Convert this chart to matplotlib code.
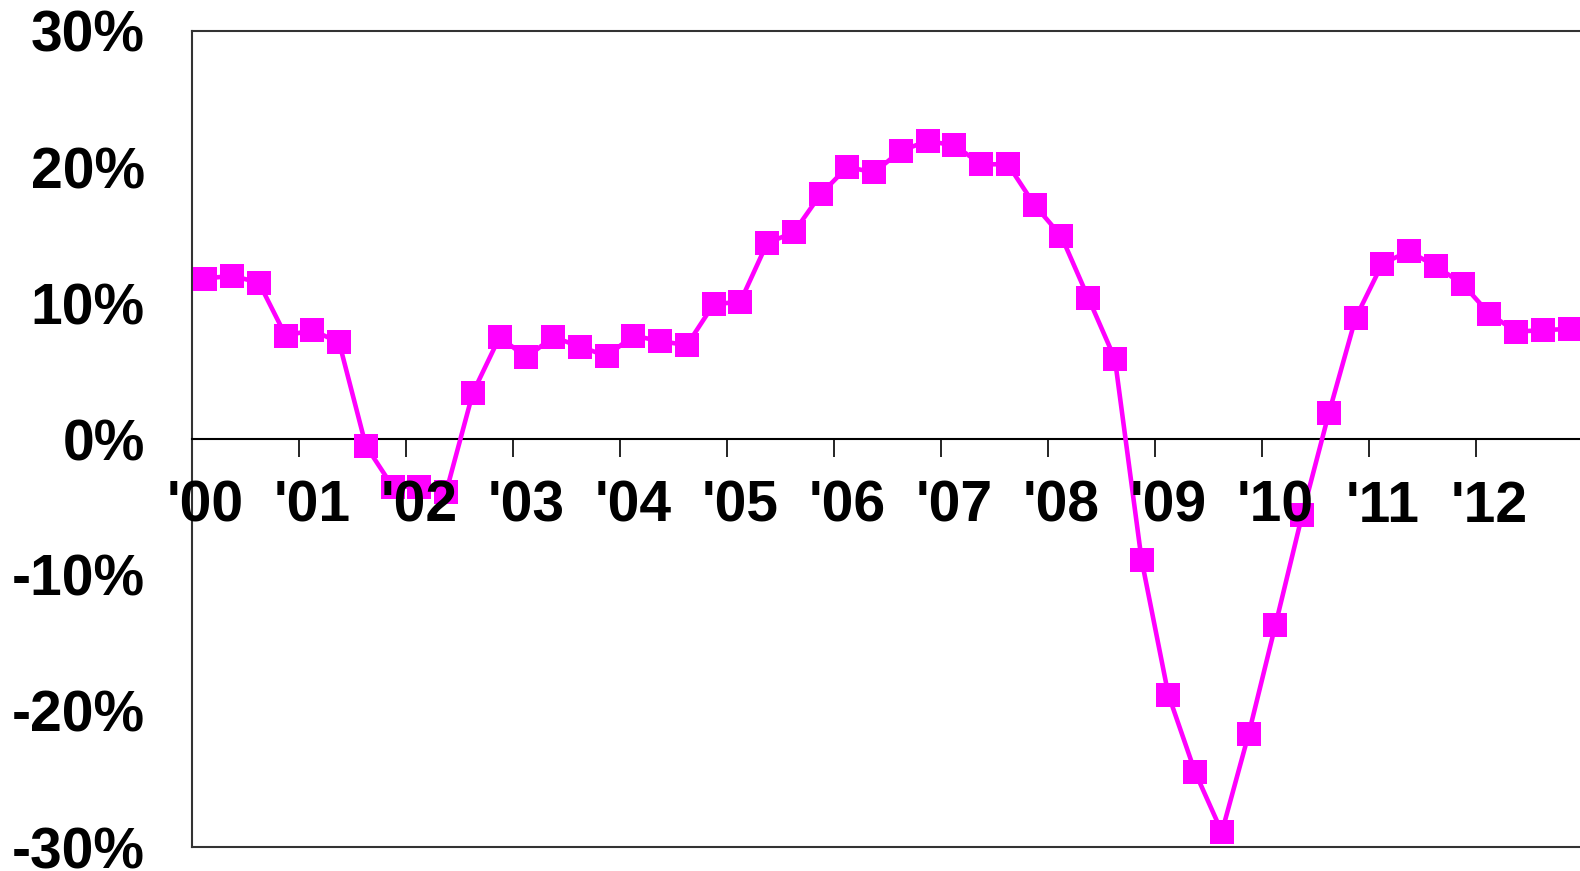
import matplotlib
matplotlib.use("Agg")
import matplotlib.pyplot as plt

plt.rcParams["font.family"] = ["Liberation Sans", "DejaVu Sans"]
plt.rcParams["font.weight"] = "bold"

# Year labels, one per four quarters (placed on each year's first quarter)
year_labels = ["'00", "'01", "'02", "'03", "'04", "'05", "'06",
               "'07", "'08", "'09", "'10", "'11", "'12"]

# Quarterly year-over-year growth, %, 2000 Q1 .. 2012 Q4
growth = [11.8, 12.0, 11.5, 7.6, 8.0, 7.1, -0.5, -3.5, -3.5, -3.9,
          3.4, 7.5, 6.0, 7.5, 6.8, 6.1, 7.6, 7.2, 6.9, 9.9,
          10.1, 14.4, 15.2, 18.0, 20.0, 19.6, 21.2, 21.9, 21.6, 20.2,
          20.2, 17.2, 14.9, 10.4, 5.9, -8.9, -18.8, -24.5, -28.9, -21.7,
          -13.7, -5.6, 1.9, 8.9, 12.9, 13.8, 12.7, 11.4, 9.2, 7.9,
          8.0, 8.1]

y_ticks = [-30, -20, -10, 0, 10, 20, 30]

W, H = 1580, 871
fig = plt.figure(figsize=(W / 100, H / 100), dpi=100)
ax = fig.add_axes([192 / W, 24 / H, 1391 / W, 816 / H])

n = len(growth)
x = list(range(n))
ax.plot(x, growth, color="#FF00FF", lw=3.3, marker="s", ms=17.5,
        mfc="#FF00FF", mew=0, zorder=3, clip_on=False)

ax.set_xlim(-0.5, n - 0.5)
ax.set_ylim(y_ticks[0], y_ticks[-1])

# Frame
frame_col = "#333333"
for side in ("left", "top", "right"):
    ax.spines[side].set_color(frame_col)
    ax.spines[side].set_linewidth(1.5)
ax.axhline(y_ticks[0], color=frame_col, lw=1.5, clip_on=False, zorder=2.6)

# Category axis crosses at zero, with tick marks between years
ax.spines["bottom"].set_position(("data", 0))
ax.spines["bottom"].set_color("black")
ax.spines["bottom"].set_linewidth(1.5)
ax.set_xticks([4 * k - 0.5 for k in range(1, len(year_labels))])
ax.tick_params(axis="x", direction="out", length=13, width=1.2,
               color="black", labelbottom=False)

for k, lab in enumerate(year_labels):
    ax.text(4 * k, -6.08, lab, ha="center", va="baseline", fontsize=41,
            fontweight="bold", color="black", zorder=5, clip_on=False)

# Value axis
ax.set_yticks(y_ticks)
ax.set_yticklabels([f"{v}%" for v in y_ticks])
ax.tick_params(axis="y", length=0, pad=34, labelsize=41)
for t in ax.get_yticklabels():
    t.set_fontweight("bold")

fig.savefig("out.png", dpi=100)
